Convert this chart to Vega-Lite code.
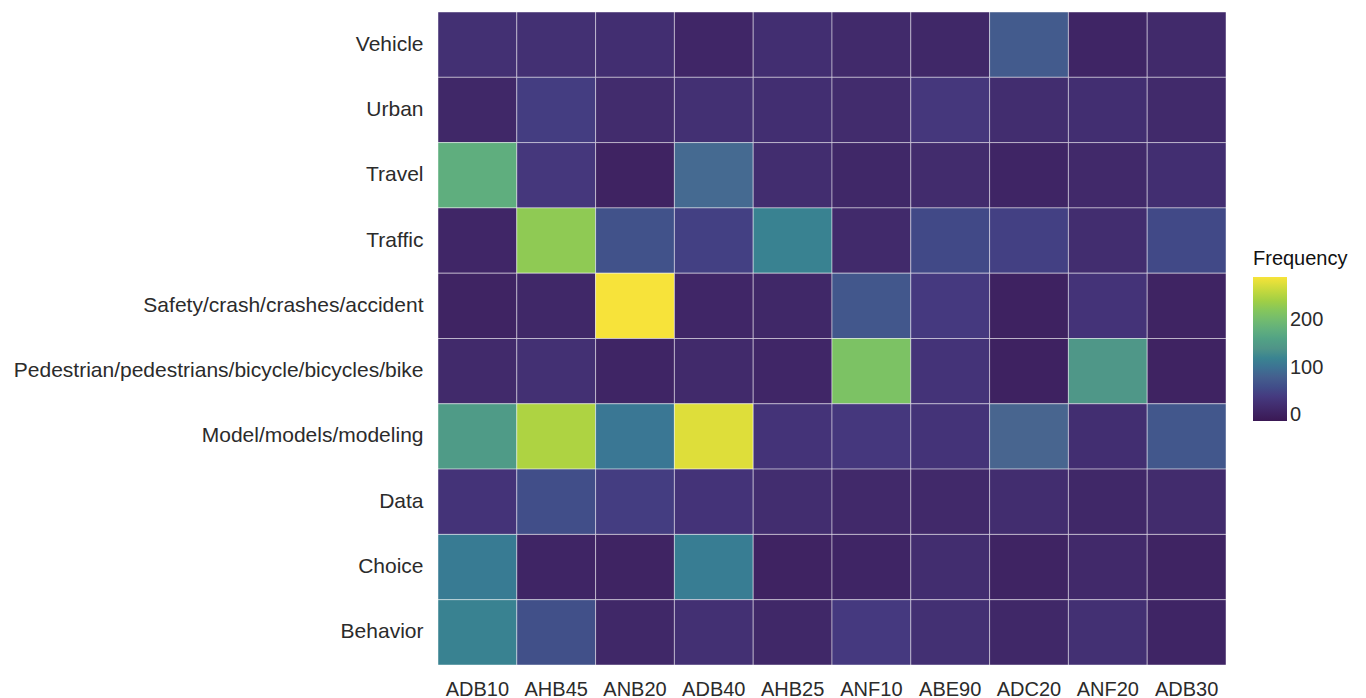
{
  "$schema": "https://vega.github.io/schema/vega-lite/v6.json",
  "width": 788,
  "height": 653,
  "autosize": {"type": "none"},
  "padding": {"left": 438, "top": 12, "right": 140, "bottom": 33},
  "background": "white",
  "config": {
    "view": {"stroke": null},
    "font": "Liberation Sans",
    "axis": {"domain": false, "ticks": false, "grid": false, "labelFont": "Liberation Sans", "labelFontSize": 20, "labelColor": "#2b2b2b", "labelLimit": 0, "title": null},
    "legend": {"titleFont": "Liberation Sans", "labelFont": "Liberation Sans"}
  },
  "data": {"values": [
    {"x": "ADB10", "y": "Vehicle", "v": 25}, {"x": "AHB45", "y": "Vehicle", "v": 25}, {"x": "ANB20", "y": "Vehicle", "v": 22}, {"x": "ADB40", "y": "Vehicle", "v": 10}, {"x": "AHB25", "y": "Vehicle", "v": 22}, {"x": "ANF10", "y": "Vehicle", "v": 15}, {"x": "ABE90", "y": "Vehicle", "v": 12}, {"x": "ADC20", "y": "Vehicle", "v": 75}, {"x": "ANF20", "y": "Vehicle", "v": 8}, {"x": "ADB30", "y": "Vehicle", "v": 15},
    {"x": "ADB10", "y": "Urban", "v": 12}, {"x": "AHB45", "y": "Urban", "v": 42}, {"x": "ANB20", "y": "Urban", "v": 18}, {"x": "ADB40", "y": "Urban", "v": 25}, {"x": "AHB25", "y": "Urban", "v": 22}, {"x": "ANF10", "y": "Urban", "v": 18}, {"x": "ABE90", "y": "Urban", "v": 35}, {"x": "ADC20", "y": "Urban", "v": 20}, {"x": "ANF20", "y": "Urban", "v": 22}, {"x": "ADB30", "y": "Urban", "v": 15},
    {"x": "ADB10", "y": "Travel", "v": 178}, {"x": "AHB45", "y": "Travel", "v": 35}, {"x": "ANB20", "y": "Travel", "v": 5}, {"x": "ADB40", "y": "Travel", "v": 92}, {"x": "AHB25", "y": "Travel", "v": 20}, {"x": "ANF10", "y": "Travel", "v": 12}, {"x": "ABE90", "y": "Travel", "v": 18}, {"x": "ADC20", "y": "Travel", "v": 8}, {"x": "ANF20", "y": "Travel", "v": 14}, {"x": "ADB30", "y": "Travel", "v": 22},
    {"x": "ADB10", "y": "Traffic", "v": 10}, {"x": "AHB45", "y": "Traffic", "v": 228}, {"x": "ANB20", "y": "Traffic", "v": 65}, {"x": "ADB40", "y": "Traffic", "v": 45}, {"x": "AHB25", "y": "Traffic", "v": 118}, {"x": "ANF10", "y": "Traffic", "v": 15}, {"x": "ABE90", "y": "Traffic", "v": 55}, {"x": "ADC20", "y": "Traffic", "v": 45}, {"x": "ANF20", "y": "Traffic", "v": 20}, {"x": "ADB30", "y": "Traffic", "v": 55},
    {"x": "ADB10", "y": "Safety/crash/crashes/accident", "v": 6}, {"x": "AHB45", "y": "Safety/crash/crashes/accident", "v": 12}, {"x": "ANB20", "y": "Safety/crash/crashes/accident", "v": 290}, {"x": "ADB40", "y": "Safety/crash/crashes/accident", "v": 10}, {"x": "AHB25", "y": "Safety/crash/crashes/accident", "v": 12}, {"x": "ANF10", "y": "Safety/crash/crashes/accident", "v": 70}, {"x": "ABE90", "y": "Safety/crash/crashes/accident", "v": 38}, {"x": "ADC20", "y": "Safety/crash/crashes/accident", "v": 4}, {"x": "ANF20", "y": "Safety/crash/crashes/accident", "v": 30}, {"x": "ADB30", "y": "Safety/crash/crashes/accident", "v": 6},
    {"x": "ADB10", "y": "Pedestrian/pedestrians/bicycle/bicycles/bike", "v": 15}, {"x": "AHB45", "y": "Pedestrian/pedestrians/bicycle/bicycles/bike", "v": 25}, {"x": "ANB20", "y": "Pedestrian/pedestrians/bicycle/bicycles/bike", "v": 8}, {"x": "ADB40", "y": "Pedestrian/pedestrians/bicycle/bicycles/bike", "v": 15}, {"x": "AHB25", "y": "Pedestrian/pedestrians/bicycle/bicycles/bike", "v": 10}, {"x": "ANF10", "y": "Pedestrian/pedestrians/bicycle/bicycles/bike", "v": 212}, {"x": "ABE90", "y": "Pedestrian/pedestrians/bicycle/bicycles/bike", "v": 30}, {"x": "ADC20", "y": "Pedestrian/pedestrians/bicycle/bicycles/bike", "v": 4}, {"x": "ANF20", "y": "Pedestrian/pedestrians/bicycle/bicycles/bike", "v": 145}, {"x": "ADB30", "y": "Pedestrian/pedestrians/bicycle/bicycles/bike", "v": 5},
    {"x": "ADB10", "y": "Model/models/modeling", "v": 150}, {"x": "AHB45", "y": "Model/models/modeling", "v": 248}, {"x": "ANB20", "y": "Model/models/modeling", "v": 105}, {"x": "ADB40", "y": "Model/models/modeling", "v": 276}, {"x": "AHB25", "y": "Model/models/modeling", "v": 30}, {"x": "ANF10", "y": "Model/models/modeling", "v": 36}, {"x": "ABE90", "y": "Model/models/modeling", "v": 30}, {"x": "ADC20", "y": "Model/models/modeling", "v": 88}, {"x": "ANF20", "y": "Model/models/modeling", "v": 22}, {"x": "ADB30", "y": "Model/models/modeling", "v": 70},
    {"x": "ADB10", "y": "Data", "v": 30}, {"x": "AHB45", "y": "Data", "v": 60}, {"x": "ANB20", "y": "Data", "v": 42}, {"x": "ADB40", "y": "Data", "v": 30}, {"x": "AHB25", "y": "Data", "v": 20}, {"x": "ANF10", "y": "Data", "v": 14}, {"x": "ABE90", "y": "Data", "v": 14}, {"x": "ADC20", "y": "Data", "v": 20}, {"x": "ANF20", "y": "Data", "v": 12}, {"x": "ADB30", "y": "Data", "v": 18},
    {"x": "ADB10", "y": "Choice", "v": 110}, {"x": "AHB45", "y": "Choice", "v": 8}, {"x": "ANB20", "y": "Choice", "v": 6}, {"x": "ADB40", "y": "Choice", "v": 112}, {"x": "AHB25", "y": "Choice", "v": 5}, {"x": "ANF10", "y": "Choice", "v": 8}, {"x": "ABE90", "y": "Choice", "v": 20}, {"x": "ADC20", "y": "Choice", "v": 6}, {"x": "ANF20", "y": "Choice", "v": 14}, {"x": "ADB30", "y": "Choice", "v": 6},
    {"x": "ADB10", "y": "Behavior", "v": 118}, {"x": "AHB45", "y": "Behavior", "v": 62}, {"x": "ANB20", "y": "Behavior", "v": 12}, {"x": "ADB40", "y": "Behavior", "v": 25}, {"x": "AHB25", "y": "Behavior", "v": 12}, {"x": "ANF10", "y": "Behavior", "v": 38}, {"x": "ABE90", "y": "Behavior", "v": 24}, {"x": "ADC20", "y": "Behavior", "v": 12}, {"x": "ANF20", "y": "Behavior", "v": 25}, {"x": "ADB30", "y": "Behavior", "v": 8}
  ]},
  "mark": {"type": "rect", "stroke": "white", "strokeWidth": 1, "strokeOpacity": 0.45},
  "encoding": {
    "x": {"field": "x", "type": "nominal", "sort": ["ADB10", "AHB45", "ANB20", "ADB40", "AHB25", "ANF10", "ABE90", "ADC20", "ANF20", "ADB30"], "scale": {"paddingInner": 0, "paddingOuter": 0}, "axis": {"labelAngle": 0, "labelPadding": 14}},
    "y": {"field": "y", "type": "nominal", "sort": ["Vehicle", "Urban", "Travel", "Traffic", "Safety/crash/crashes/accident", "Pedestrian/pedestrians/bicycle/bicycles/bike", "Model/models/modeling", "Data", "Choice", "Behavior"], "scale": {"paddingInner": 0, "paddingOuter": 0}, "axis": {"labelPadding": 15, "labelFontSize": 21}},
    "color": {"field": "v", "type": "quantitative", "title": "Frequency", "scale": {"domain": [-12, 290], "nice": false, "zero": false, "range": ["#3a1854", "#45397f", "#48668f", "#4f9388", "#6bb577", "#a0cf45", "#f7e33a"]},
      "legend": {"orient": "none", "legendX": 815, "legendY": 237, "values": [0, 100, 200], "gradientLength": 144, "gradientThickness": 34, "gradientStrokeWidth": 0, "titleFontSize": 20, "titleFontWeight": "normal", "titleColor": "#111", "titlePadding": 8, "labelFontSize": 20, "labelColor": "#2b2b2b", "labelOffset": 3, "labelBaseline": "middle"}}
  }
}
